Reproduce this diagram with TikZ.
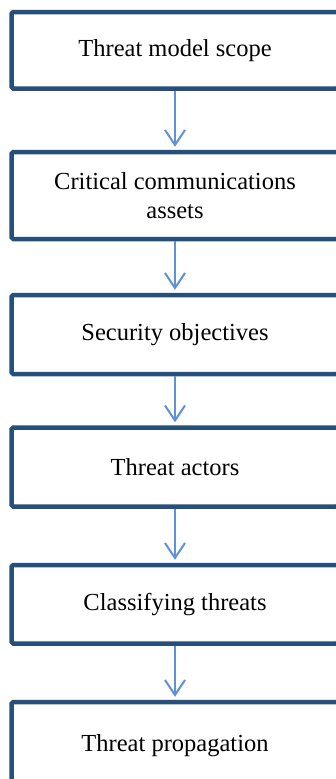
\documentclass[tikz,border=0pt]{standalone}
\usepackage{fontspec}
\setmainfont{Liberation Serif}
\usepackage{xcolor}
\usetikzlibrary{arrows.meta}
\usetikzlibrary{math}
\definecolor{boxblue}{RGB}{38,79,122}
\definecolor{arrblue}{RGB}{94,145,215}
\tikzset{
stage/.style={draw=boxblue,line width=4.5pt,fill=white,rounded corners=1.5pt,
  minimum width=326.6pt,align=center,inner sep=0pt,text=black,
  font=\fontsize{24.5}{28.5}\selectfont},
flow/.style={-{Straight Barb[length=15pt,width=20pt]},draw=arrblue,line width=2pt,shorten >=3pt}
}

\begin{document}
\begin{tikzpicture}[x=1pt,y=-1pt]
\tikzmath{
\xc=175;
}
\useasboundingbox (0,0) rectangle (336,779);
\fill[white] (0,0) rectangle (336,779);

\node[stage,minimum height=76.5pt] (scope) at (\xc,50.25) {Threat model scope};
\node[stage,minimum height=87pt] (assets) at (\xc,195.5) {Critical communications\\assets};
\node[stage,minimum height=79pt] (objectives) at (\xc,334.5) {Security objectives};
\node[stage,minimum height=79pt] (actors) at (\xc,467) {Threat actors};
\node[stage,minimum height=78.5pt] (classify) at (\xc,604.25) {Classifying threats};
\node[stage,minimum height=88pt] (propagation) at (\xc,746) {Threat propagation};

\draw[flow] (scope) -- (assets);
\draw[flow] (assets) -- (objectives);
\draw[flow] (objectives) -- (actors);
\draw[flow] (actors) -- (classify);
\draw[flow] (classify) -- (propagation);
\end{tikzpicture}
\end{document}
